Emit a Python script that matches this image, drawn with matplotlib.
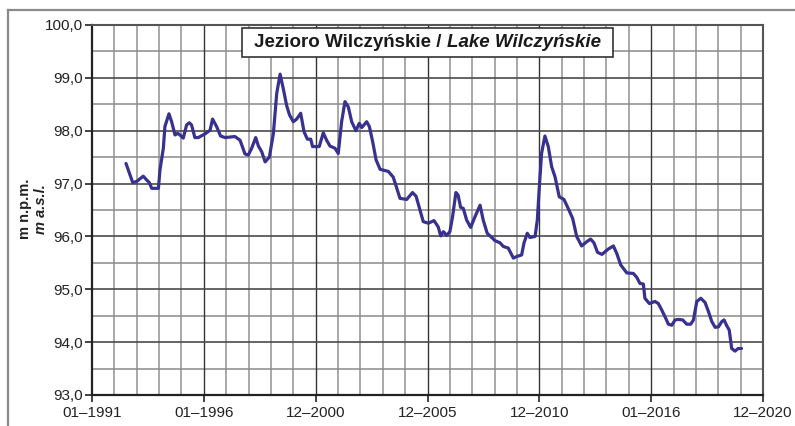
import matplotlib
matplotlib.use("Agg")
import matplotlib.pyplot as plt
from matplotlib.lines import Line2D
from matplotlib.patches import Rectangle
import numpy as np

# ---- data (decimal year, lake level m a.s.l.) ----
dates = [
    1992.52, 1992.82, 1993.00, 1993.29, 1993.44, 1993.56, 1993.67, 1993.97, 1994.04, 1994.19,
    1994.26, 1994.44, 1994.56, 1994.71, 1994.83, 1994.93, 1995.08, 1995.23, 1995.35, 1995.45,
    1995.60, 1995.75, 1996.05, 1996.28, 1996.39, 1996.57, 1996.75, 1996.95, 1997.39, 1997.62,
    1997.84, 1997.99, 1998.14, 1998.32, 1998.44, 1998.59, 1998.74, 1998.93, 1999.11, 1999.26,
    1999.41, 1999.55, 1999.70, 1999.83, 2000.00, 2000.15, 2000.33, 2000.48, 2000.63, 2000.78,
    2000.86, 2001.16, 2001.34, 2001.49, 2001.64, 2001.86, 2002.01, 2002.16, 2002.31, 2002.46,
    2002.61, 2002.80, 2002.95, 2003.06, 2003.28, 2003.40, 2003.55, 2003.70, 2003.88, 2004.25,
    2004.47, 2004.77, 2005.07, 2005.33, 2005.49, 2005.81, 2006.04, 2006.29, 2006.48, 2006.59,
    2006.71, 2006.86, 2007.00, 2007.12, 2007.27, 2007.37, 2007.48, 2007.60, 2007.75, 2007.93,
    2008.12, 2008.35, 2008.49, 2008.67, 2009.02, 2009.24, 2009.39, 2009.61, 2009.84, 2009.99,
    2010.21, 2010.31, 2010.46, 2010.58, 2010.81, 2010.91, 2011.00, 2011.10, 2011.25, 2011.40,
    2011.55, 2011.70, 2011.89, 2012.10, 2012.29, 2012.49, 2012.67, 2012.89, 2013.12, 2013.29,
    2013.44, 2013.60, 2013.80, 2014.08, 2014.31, 2014.46, 2014.64, 2014.91, 2015.20, 2015.35,
    2015.50, 2015.65, 2015.72, 2015.92, 2016.17, 2016.32, 2016.47, 2016.62, 2016.77, 2016.92,
    2017.07, 2017.22, 2017.41, 2017.59, 2017.77, 2017.89, 2018.04, 2018.22, 2018.41, 2018.56,
    2018.71, 2018.86, 2019.01, 2019.16, 2019.26, 2019.38, 2019.49, 2019.60, 2019.75, 2019.89,
    2020.04,
]
levels = [
    97.38, 97.02, 97.04, 97.14, 97.07, 97.02, 96.91, 96.91, 97.26, 97.67,
    98.08, 98.32, 98.17, 97.92, 97.95, 97.92, 97.86, 98.11, 98.15, 98.11,
    97.87, 97.87, 97.94, 98.01, 98.22, 98.08, 97.90, 97.87, 97.89, 97.82,
    97.56, 97.54, 97.67, 97.87, 97.71, 97.60, 97.41, 97.50, 97.95, 98.71,
    99.07, 98.80, 98.48, 98.30, 98.17, 98.22, 98.33, 97.98, 97.84, 97.84,
    97.70, 97.70, 97.96, 97.82, 97.71, 97.67, 97.57, 98.17, 98.55, 98.45,
    98.17, 98.00, 98.14, 98.06, 98.17, 98.08, 97.79, 97.45, 97.27, 97.23,
    97.12, 96.72, 96.70, 96.83, 96.76, 96.28, 96.25, 96.30, 96.18, 96.01,
    96.09, 96.02, 96.09, 96.37, 96.83, 96.78, 96.55, 96.53, 96.31, 96.17,
    96.37, 96.59, 96.31, 96.06, 95.92, 95.88, 95.81, 95.78, 95.59, 95.62,
    95.65, 95.87, 96.06, 95.98, 96.00, 96.31, 96.94, 97.57, 97.90, 97.70,
    97.32, 97.13, 96.75, 96.70, 96.53, 96.34, 96.00, 95.82, 95.90, 95.95,
    95.88, 95.70, 95.66, 95.76, 95.82, 95.68, 95.46, 95.31, 95.30, 95.23,
    95.11, 95.10, 94.83, 94.73, 94.77, 94.73, 94.61, 94.48, 94.34, 94.32,
    94.42, 94.43, 94.42, 94.34, 94.34, 94.42, 94.77, 94.83, 94.75, 94.58,
    94.39, 94.28, 94.29, 94.39, 94.42, 94.31, 94.23, 93.88, 93.83, 93.88,
    93.88,
]
xtick_pos = [1991, 1996, 2001, 2006, 2011, 2016, 2021]
xtick_labels = ["01\u20131991", "01\u20131996", "12\u20132000", "12\u20132005",
                "12\u20132010", "01\u20132016", "12\u20132020"]
ytick_pos = [93, 94, 95, 96, 97, 98, 99, 100]
ytick_labels = ["93,0", "94,0", "95,0", "96,0", "97,0", "98,0", "99,0", "100,0"]
title_main = "Jezioro Wilczyńskie / "
title_en = "Lake Wilczyńskie"
ylab_pl = "m n.p.m."
ylab_en = "m a.s.l."

plt.rcParams['font.family'] = ['Liberation Sans', 'DejaVu Sans']

W, H = 795, 426
fig = plt.figure(figsize=(W / 100, H / 100), dpi=100)
L, R, T, B = 92, 763, 25, 395
ax = fig.add_axes([L / W, 1 - B / H, (R - L) / W, (B - T) / H])

ax.set_xlim(1991, 2021)
ax.set_ylim(93, 100)

# grid
for yr in range(1992, 2021):
    if yr % 5 == 1:
        continue
    ax.axvline(yr, color='#a8a8a8', lw=1.4, zorder=1)
for xv in xtick_pos[1:-1]:
    ax.axvline(xv, color='#333333', lw=1.0, zorder=1.2)
for yv in np.arange(93.5, 100, 1.0):
    ax.axhline(yv, color='#8a8a8a', lw=1.1, zorder=1.1)
for yv in ytick_pos[1:-1]:
    ax.axhline(yv, color='#4a4a4a', lw=1.2, zorder=1.2)

ax.plot(dates, levels, color='#37318f', lw=2.3, zorder=3,
        solid_joinstyle='round', solid_capstyle='round')

ax.set_xticks(xtick_pos)
ax.set_xticklabels(xtick_labels)
ax.set_yticks(ytick_pos)
ax.set_yticklabels(ytick_labels)
ax.tick_params(axis='both', direction='out', length=5, width=1.2, color='#222222',
               labelsize=11, labelcolor='#222222')
ax.tick_params(axis='y', pad=1.5)
ax.tick_params(axis='x', pad=3)

for s in ['left', 'bottom']:
    ax.spines[s].set_color('#222222')
    ax.spines[s].set_linewidth(1.6)
for s in ['top', 'right']:
    ax.spines[s].set_color('#555555')
    ax.spines[s].set_linewidth(1.5)

# outer frame (top and left)
fig.add_artist(Line2D([8 / W, 1.0], [1 - 10 / H, 1 - 10 / H], transform=fig.transFigure,
                      color='#8a8a8a', lw=1.6))
fig.add_artist(Line2D([8 / W, 8 / W], [0, 1 - 10 / H], transform=fig.transFigure,
                      color='#8a8a8a', lw=1.6))

# y label (two lines)
fig.text(25 / W, 1 - 209 / H, ylab_pl, rotation=90, ha='center', va='center',
         fontsize=10.5, fontweight='bold', color='#222222')
fig.text(41 / W, 1 - 209 / H, ylab_en, rotation=90, ha='center', va='center',
         fontsize=10.5, fontweight='bold', fontstyle='italic', color='#222222')

# title in a box
renderer = fig.canvas.get_renderer()
fs = 13.5
t1 = fig.text(0, 0, title_main, fontsize=fs, fontweight='bold', color='#1a1a1a')
t2 = fig.text(0, 0, title_en, fontsize=fs, fontweight='bold', fontstyle='italic', color='#1a1a1a')
w1 = t1.get_window_extent(renderer).width
w2 = t2.get_window_extent(renderer).width
cx = (L + R) / 2
cy = 42.5
x0 = cx - (w1 + w2) / 2
t1.set_position((x0 / W, 1 - cy / H))
t1.set_va('center')
t2.set_position(((x0 + w1) / W, 1 - cy / H))
t2.set_va('center')
t1.set_zorder(6)
t2.set_zorder(6)
bx0, bx1, by0, by1 = 242, 613, 28, 57
fig.add_artist(Rectangle((bx0 / W, 1 - by1 / H), (bx1 - bx0) / W, (by1 - by0) / H,
                         transform=fig.transFigure, facecolor='white',
                         edgecolor='#333333', lw=1.2, zorder=5))

fig.savefig("out.png", dpi=100)
